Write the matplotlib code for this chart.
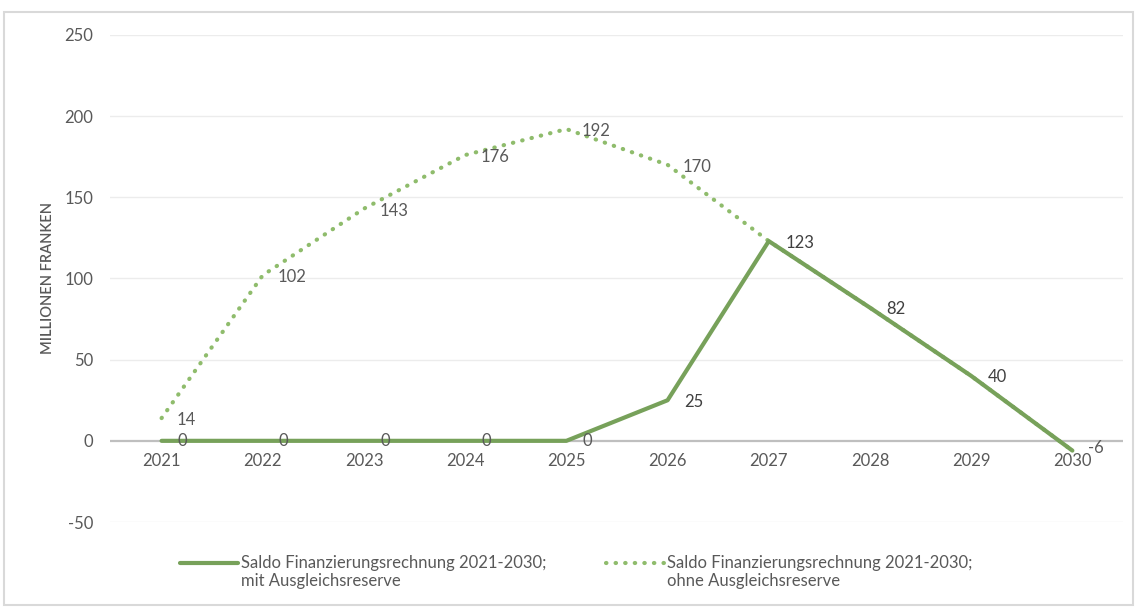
import matplotlib.pyplot as plt
from matplotlib.patches import Rectangle
from matplotlib.legend_handler import HandlerLine2D

plt.rcParams['font.family'] = ['Lato', 'DejaVu Sans']
plt.rcParams['axes.unicode_minus'] = False

years = [2021, 2022, 2023, 2024, 2025, 2026, 2027, 2028, 2029, 2030]
mit_reserve = [0, 0, 0, 0, 0, 25, 123, 82, 40, -6]
ohne_reserve = [14, 102, 143, 176, 192, 170, 123, 82, 40, -6]
y_ticks = [-50, 0, 50, 100, 150, 200, 250]

label_mit = 'Saldo Finanzierungsrechnung 2021-2030;\nmit Ausgleichsreserve'
label_ohne = 'Saldo Finanzierungsrechnung 2021-2030;\nohne Ausgleichsreserve'

text_col = '#595959'
solid_col = '#77a15a'
dot_col = '#8fbc6c'
fs = 12


# legend key next to the first text line, like in Excel
class TopLineHandler(HandlerLine2D):
    def create_artists(self, legend, orig_handle, xdescent, ydescent,
                       width, height, fontsize, trans):
        arts = super().create_artists(legend, orig_handle, xdescent, ydescent,
                                      width, height, fontsize, trans)
        for a in arts:
            a.set_ydata([y + 0.6 * fontsize for y in a.get_ydata()])
        return arts


fig = plt.figure(figsize=(11.35, 6.07), dpi=100)
fig.patches.append(Rectangle((4 / 1135, 2 / 607), 1129 / 1135, 593 / 607,
                             transform=fig.transFigure, fill=False,
                             edgecolor='#d9d9d9', linewidth=1.5))
ax = fig.add_axes([0.0969, 0.140, 0.8925, 0.8025])

for t in y_ticks:
    if t != 0:
        ax.axhline(t, color='#ececec', linewidth=1, zorder=0)
ax.axhline(0, color='#bfbfbf', linewidth=1.6, zorder=1)

ax.plot(years, ohne_reserve, color=dot_col, linestyle=(0, (0.1, 2.2)),
        linewidth=3, dash_capstyle='round', label=label_ohne, zorder=2)
ax.plot(years, mit_reserve, color=solid_col, linewidth=3,
        solid_capstyle='round', label=label_mit, zorder=3)

for x, v in zip(years, ohne_reserve):
    if x >= 2027:
        continue
    ax.annotate(str(v), (x, v), xytext=(11, -1.5), textcoords='offset points',
                ha='left', va='center', fontsize=fs, color=text_col)
for x, v in zip(years, mit_reserve):
    if x == 2030:
        ax.annotate(str(v), (x, v), xytext=(11, 2), textcoords='offset points',
                    ha='left', va='center', fontsize=fs, color=text_col)
    elif x <= 2025:
        ax.annotate(str(v), (x, v), xytext=(15, 0), textcoords='offset points',
                    ha='center', va='center', fontsize=fs, color=text_col,
                    zorder=4)
    else:
        ax.annotate(str(v), (x, v), xytext=(12, -1), textcoords='offset points',
                    ha='left', va='center', fontsize=fs, color='#404040')

for x in years:
    ax.annotate(str(x), (x, 0), xytext=(0, -9), textcoords='offset points',
                ha='center', va='top', fontsize=fs, color=text_col)

ax.set_xlim(2020.49, 2030.5)
ax.set_ylim(-50, 250)
ax.set_xticks([])
ax.set_yticks(y_ticks)
ax.tick_params(axis='y', length=0, pad=12, labelsize=fs, labelcolor=text_col)
for s in ax.spines.values():
    s.set_visible(False)

ax.set_ylabel('MILLIONEN FRANKEN', fontsize=10.5, color=text_col,
              fontweight='semibold', labelpad=7)

handles, labels = ax.get_legend_handles_labels()
fig.legend(handles[::-1], labels[::-1], loc='center left', ncol=2,
           bbox_to_anchor=(0.1454, 0.0577), frameon=False, fontsize=fs,
           labelcolor=text_col, handlelength=3.5, handletextpad=0.15,
           columnspacing=3.6, labelspacing=0.3,
           handler_map={h: TopLineHandler() for h in handles})

plt.savefig('out.png', dpi=100)
